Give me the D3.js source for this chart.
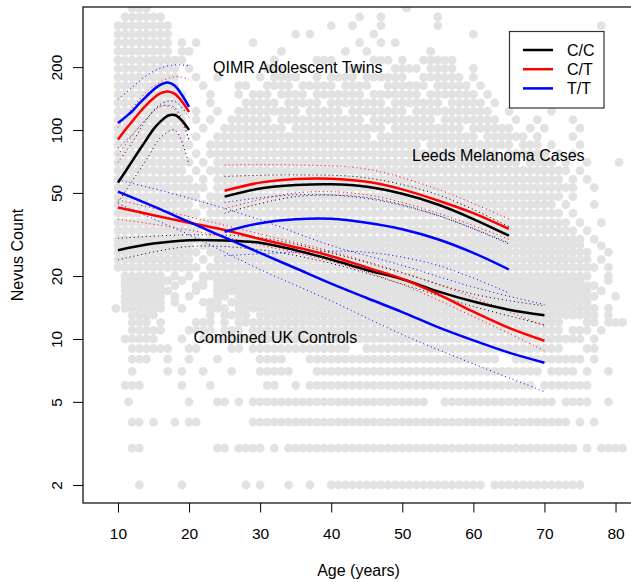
<!DOCTYPE html>
<html>
<head>
<meta charset="utf-8">
<script src="https://cdn.jsdelivr.net/npm/d3@7"></script>
<style>
  body { margin: 0; background: #fff; }
  svg text { font-family: "Liberation Sans", Arial, Helvetica, sans-serif; fill: #000; }
</style>
</head>
<body>
<div id="chart"></div>
<script>
// Background cloud: nevus count levels and the ages seen at each level ("a-b" = every year from a to b)
const scatterCounts = [2, 3, 4, 5, 6, 7, 8, 9, 10, 11, 12, 13, 14, 15, 16, 17, 18, 19, 20,
    22, 24, 26, 28, 30, 33, 36, 40, 44, 48, 53, 58, 64, 70, 77, 85, 93, 102, 112, 123,
    135, 148, 163, 179, 197, 216, 238, 262, 288, 316, 348, 383];
const scatterAges = [
    "13,19,28,30,34,37,40-61,63-75",
    "12,13,24,25,27-30,32,34-73,74,76,78-81",
    "12,13,15,18,20,21,29-73,75,77",
    "11.5,20,24,25,27,29-53,56-71,73-75,76,79",
    "11-13,19,23,31,32,35,37-68,70-76",
    "12,17,19,22,26,30-34,38-66,67-69,71-74,76,79",
    "12-14,17,20,24,30-33,37-63,66-75,77",
    "12-16,17,20,21,26,27,29-42,45-72,76,77",
    "11-15,19,22-75,77",
    "12-16,20-23,25-27,29-72,74-76,78",
    "12-14,16,21-23,25,27-72,76,77,79-81",
    "12-15,23,25,26-28,30-77,79",
    "9.7,11-16,19,23-25,27-77,79",
    "11-16,18,22-24,26-76",
    "11-16,18,20,24,25,27-77,80",
    "11-16,17,21,24-76,78",
    "11-16,18,21,22,24-77",
    "11-16,17,19,22,24-75,79",
    "11-16,18,20,22-76,79",
    "10-16,17-21,23-77,79",
    "10-16,17-20,22,24-76,78",
    "10-17,18-21,23-76,79",
    "10-16,17-20,22-75,78",
    "10-16,17-21,23-75,77",
    "10-17,18-21,23-74,76",
    "10-16,17-20,22-73,75,78",
    "10-16,17-21,23-72,74",
    "10-17,18-20,22-71,73,77",
    "10-16,17-21,23-72,74",
    "10-21,22,24-73,74,77",
    "10-20,22,24-72,74,76",
    "10-19,21,23-72,73,75",
    "10-20,22,24-66,68-71,73,76,80.5",
    "10-19,21,23-63,65-70,72,74",
    "10-19,20,23-52,54-65,67-69,71,75",
    "10-19,21,24-45,47-60,62-67,69,74",
    "10-19,22,25-33,35-47,49-58,60-65,68,70,75",
    "10-19,21,23,26-31,33-44,46-54,56-63,66,69,74",
    "10-19,21,24,27-35,37-41,43-50,52-62,65,71",
    "10-19,23,28-32,34-38,40-47,49-55,57-61,63,72,73",
    "10-19,23,27,29-31,33-36,38-44,46-52,54-60,62",
    "10-18,22,27,28,31-34,36-40,42-45,48-53,55-59,61",
    "10-18,21,24,30,32-35,38,40-43,45-50,53-58,60",
    "10-18,20,31-33,36,43,44,49-52,54-57,60",
    "10-17,18,19,32,38-40,46-48,50,53-57",
    "10-17,19,20,33,42,45,54",
    "10-16,17,19,21,29,44,47,49",
    "10-16,17,35,37,46,60",
    "10-15,16,17,40,43,47,55,78",
    "11-15,16,44,47,55",
    "12-14,50.6"
];

// QIMR adolescent twins fits
const qimrAges = [10, 11, 12, 13, 14, 15, 16, 17, 18, 19, 20];
const qimrCC = [56, 63, 71, 80, 90, 101, 110, 117, 118, 111, 100];
const qimrCT = [90, 100, 110, 121, 132, 142, 150, 153, 149, 137, 122];
const qimrTT = [108, 115, 123, 134, 145, 156, 165, 169, 163, 147, 129];
const qimrCiAges = [10, 12, 14, 16, 18, 20];
const qimrCCup = [70, 87, 112, 133, 137, 115];
const qimrCClo = [45, 57, 72, 92, 100, 68];
const qimrCTup = [103, 127, 152, 170, 180, 175];
const qimrCTlo = [76, 94, 113, 130, 125, 88];
const qimrTTup = [140, 160, 182, 198, 205, 203];
const qimrTTlo = [82, 95, 113, 130, 128, 90];

// Combined UK controls fits
const ctrlAges = [10, 15, 20, 25, 30, 35, 40, 45, 50, 55, 60, 65, 70];
const ctrlCC = [26.6, 28.6, 29.7, 29.6, 28.9, 26.6, 24.0, 21.4, 19.3, 16.9, 15.1, 13.8, 13.0];
const ctrlCT = [42.6, 39.1, 36.0, 33.2, 30.1, 27.5, 24.9, 22.0, 19.4, 16.4, 13.5, 11.3, 9.8];
const ctrlTT = [50.7, 43.1, 36.3, 30.6, 25.8, 21.8, 18.4, 15.7, 13.45, 11.4, 9.85, 8.6, 7.7];
const ctrlCiAges = [10, 20, 30, 40, 50, 60, 70];
const ctrlCCup = [30.3, 31.5, 30.5, 25.8, 20.7, 16.4, 14.4];
const ctrlCClo = [23.9, 27.7, 26.7, 23.0, 18.3, 14.3, 11.7];
const ctrlCTup = [46.3, 38.5, 31.8, 26.2, 20.8, 15.8, 11.5];
const ctrlCTlo = [37.5, 33.2, 28.2, 23.5, 18.2, 12.8, 8.8];
const ctrlTTup = [57.8, 47.2, 37.2, 28.0, 22.5, 17.7, 14.6];
const ctrlTTlo = [44.5, 31.5, 21.5, 15.2, 10.5, 7.6, 5.6];

// Leeds melanoma cases fits
const leedsAges = [25, 30, 35, 40, 45, 50, 55, 60, 65];
const leedsCC = [48, 52.5, 54.5, 55, 53.5, 49.5, 44, 37.5, 31.2];
const leedsCT = [51.2, 56, 58.3, 58.5, 56.5, 52, 46, 40, 33.6];
const leedsTT = [32.6, 35.8, 37.4, 37.6, 36, 33.5, 30, 25.8, 21.5];
const leedsCiAges = [25, 35, 45, 55, 65];
const leedsCCup = [60, 61, 59, 49, 34.5];
const leedsCClo = [40, 48, 47.5, 39, 28.5];
const leedsCTup = [68, 68, 65, 52, 37.5];
const leedsCTlo = [42, 50, 49, 40, 30];
const leedsTTup = [45, 49, 47, 39, 28.8];
const leedsTTlo = [25, 26, 26, 22.5, 16.6];

const genotypes = ["C/C", "C/T", "T/T"];
const genoColors = ["#000000", "#ff0000", "#0000ff"];
const xTicks = [10, 20, 30, 40, 50, 60, 70, 80];
const yTicks = [2, 5, 10, 20, 50, 100, 200];
const groupLabels = ["QIMR Adolescent Twins", "Leeds Melanoma Cases", "Combined UK Controls"];

const width = 631, height = 582;
const plot = { left: 83, top: 7, right: 634, bottom: 503 };

const svg = d3.select("#chart").append("svg")
    .attr("width", width)
    .attr("height", height);

const x = d3.scaleLinear().domain([5.08, 82.6]).range([plot.left, plot.right]);
const y = d3.scaleLog().domain([1.64, 388]).range([plot.bottom, plot.top]);

svg.append("clipPath").attr("id", "clip")
    .append("rect")
    .attr("x", plot.left).attr("y", plot.top)
    .attr("width", plot.right - plot.left).attr("height", plot.bottom - plot.top);

const inner = svg.append("g").attr("clip-path", "url(#clip)");

// expand the level strings into points
const points = [];
scatterCounts.forEach((c, i) => {
    scatterAges[i].split(",").forEach(tok => {
        const m = tok.match(/^([\d.]+)-([\d.]+)$/);
        if (m) {
            for (let a = +m[1]; a <= +m[2]; a++) points.push([a, c]);
        } else {
            points.push([+tok, c]);
        }
    });
});

inner.append("g").selectAll("circle")
    .data(points)
    .enter().append("circle")
    .attr("cx", d => x(d[0]))
    .attr("cy", d => y(d[1]))
    .attr("r", 4.4)
    .attr("fill", "#e2e2e2");

const line = d3.line()
    .x(d => x(d[0]))
    .y(d => y(d[1]))
    .curve(d3.curveCatmullRom.alpha(0.5));

function drawFit(ages, vals, color) {
    inner.append("path")
        .datum(ages.map((a, i) => [a, vals[i]]))
        .attr("d", line)
        .attr("fill", "none")
        .attr("stroke", color)
        .attr("stroke-width", 2.5);
}

function drawCi(ages, vals, color) {
    inner.append("path")
        .datum(ages.map((a, i) => [a, vals[i]]))
        .attr("d", line)
        .attr("fill", "none")
        .attr("stroke", color)
        .attr("stroke-width", 1)
        .attr("stroke-dasharray", "1,3");
}

// confidence bands first, then the fitted lines
[[qimrCiAges, [qimrCCup, qimrCClo], [qimrCTup, qimrCTlo], [qimrTTup, qimrTTlo]],
 [ctrlCiAges, [ctrlCCup, ctrlCClo], [ctrlCTup, ctrlCTlo], [ctrlTTup, ctrlTTlo]],
 [leedsCiAges, [leedsCCup, leedsCClo], [leedsCTup, leedsCTlo], [leedsTTup, leedsTTlo]]]
    .forEach(g => {
        for (let k = 0; k < 3; k++) {
            drawCi(g[0], g[k + 1][0], genoColors[k]);
            drawCi(g[0], g[k + 1][1], genoColors[k]);
        }
    });

[[qimrAges, qimrCC, qimrCT, qimrTT],
 [ctrlAges, ctrlCC, ctrlCT, ctrlTT],
 [leedsAges, leedsCC, leedsCT, leedsTT]]
    .forEach(g => {
        for (let k = 0; k < 3; k++) drawFit(g[0], g[k + 1], genoColors[k]);
    });

// group labels
const labelPos = [[213, 73], [412, 161], [193.5, 343]];
groupLabels.forEach((t, i) => {
    svg.append("text")
        .attr("x", labelPos[i][0])
        .attr("y", labelPos[i][1])
        .style("font-size", "16px")
        .text(t);
});

// axes
const xAxis = svg.append("g")
    .attr("transform", `translate(0,${plot.bottom})`)
    .call(d3.axisBottom(x).tickValues(xTicks).tickSize(9.5).tickFormat(d3.format("d")));
xAxis.select(".domain").remove();
xAxis.selectAll("text").attr("y", 36).attr("dy", 0).style("font-size", "15.5px");

const yAxis = svg.append("g")
    .attr("transform", `translate(${plot.left},0)`)
    .call(d3.axisLeft(y).tickValues(yTicks).tickSize(10).tickFormat(d3.format("d")));
yAxis.select(".domain").remove();
yAxis.selectAll("text")
    .attr("transform", "rotate(-90)")
    .attr("x", 0).attr("y", -21).attr("dy", 0)
    .attr("text-anchor", "middle")
    .style("font-size", "15.5px");
svg.selectAll(".tick line").attr("stroke", "#000");

svg.append("rect")
    .attr("x", plot.left).attr("y", plot.top)
    .attr("width", plot.right - plot.left).attr("height", plot.bottom - plot.top)
    .attr("fill", "none").attr("stroke", "#000").attr("stroke-width", 1.2);

svg.append("text")
    .attr("x", (plot.left + plot.right) / 2)
    .attr("y", 575.5)
    .attr("text-anchor", "middle")
    .style("font-size", "16px")
    .text("Age (years)");

svg.append("text")
    .attr("transform", `translate(23,${(plot.top + plot.bottom) / 2}) rotate(-90)`)
    .attr("text-anchor", "middle")
    .style("font-size", "16px")
    .text("Nevus Count");

// legend
const legend = svg.append("g");
legend.append("rect")
    .attr("x", 509.5).attr("y", 31.5).attr("width", 94.5).attr("height", 76.5)
    .attr("fill", "#fff").attr("stroke", "#333").attr("stroke-width", 1.2);
genotypes.forEach((g, i) => {
    const ly = 50 + i * 19.2;
    legend.append("line")
        .attr("x1", 523).attr("x2", 553).attr("y1", ly).attr("y2", ly)
        .attr("stroke", genoColors[i]).attr("stroke-width", 2.5);
    legend.append("text")
        .attr("x", 567).attr("y", ly + 5.7)
        .style("font-size", "16px")
        .text(g);
});
</script>
</body>
</html>
